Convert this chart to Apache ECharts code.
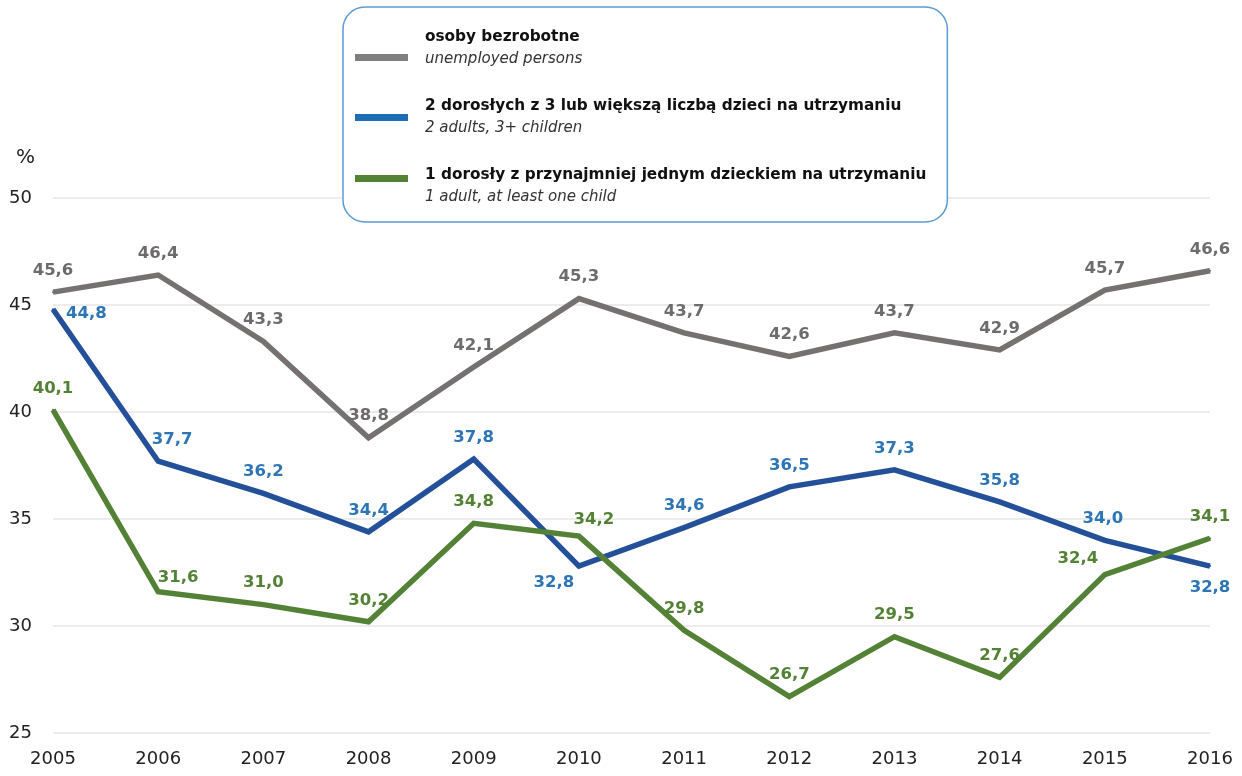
<!DOCTYPE html>
<html>
<head>
<meta charset="utf-8">
<title>Bezrobotni i gospodarstwa z dziećmi</title>
<script src="https://cdn.jsdelivr.net/npm/echarts@6/dist/echarts.min.js"></script>
<style>
  html, body { margin: 0; padding: 0; background: #fff; }
  #chart { width: 1242px; height: 776px; }
</style>
</head>
<body>
<div id="chart"></div>
<script>
// Data
const years = ['2005', '2006', '2007', '2008', '2009', '2010', '2011', '2012', '2013', '2014', '2015', '2016'];
const unemployed = [45.6, 46.4, 43.3, 38.8, 42.1, 45.3, 43.7, 42.6, 43.7, 42.9, 45.7, 46.6];
const twoAdultsThreeKids = [44.8, 37.7, 36.2, 34.4, 37.8, 32.8, 34.6, 36.5, 37.3, 35.8, 34.0, 32.8];
const oneAdultWithKids = [40.1, 31.6, 31.0, 30.2, 34.8, 34.2, 29.8, 26.7, 29.5, 27.6, 32.4, 34.1];

const namesPl = [
  'osoby bezrobotne',
  '2 dorosłych z 3 lub większą liczbą dzieci na utrzymaniu',
  '1 dorosły z przynajmniej jednym dzieckiem na utrzymaniu'
];
const namesEn = [
  'unemployed persons',
  '2 adults, 3+ children',
  '1 adult, at least one child'
];
const yTicks = [25, 30, 35, 40, 45, 50];

const FONT = '"DejaVu Sans", sans-serif';

// label placement tweaks per point (index -> label options)
const labelTweaks = [
  {},
  {
    0: { position: 'right', distance: 12, offset: [0, 4] },
    1: { offset: [14, 0] },
    5: { position: 'bottom', offset: [-25, -5] },
    10: { offset: [-2, 0] },
    11: { position: 'bottom' }
  },
  {
    1: { offset: [20, 7] },
    5: { offset: [15, 5] },
    10: { offset: [-27, 6] }
  }
];

const lineColors = ['#767171', '#24509a', '#538135'];
const labelColors = ['#6e6b6b', '#2e75b6', '#538135'];
const legendColors = ['#7f7f7f', '#1f6db5', '#548235'];
// vertical spot of the legend swatch inside each item (px from item top)
const swatchTop = [28, 19, 11];

function buildData(values, tweaks) {
  return values.map((v, i) => tweaks[i] ? { value: v, label: tweaks[i] } : v);
}

function makeSeries(idx, values) {
  return {
    name: namesPl[idx],
    type: 'line',
    data: buildData(values, labelTweaks[idx]),
    symbol: 'circle',
    symbolSize: 2,
    itemStyle: { color: lineColors[idx], borderWidth: 0 },
    lineStyle: { color: lineColors[idx], width: 5.5, join: 'miter' },
    label: {
      show: true,
      position: 'top',
      distance: 12,
      color: labelColors[idx],
      fontFamily: FONT,
      fontWeight: 'bold',
      fontSize: 16.5,
      formatter: p => p.value.toFixed(1).replace('.', ',')
    },
    emphasis: { disabled: true },
    animation: false
  };
}

const chart = echarts.init(document.getElementById('chart'), null, { renderer: 'canvas' });

const option = {
  backgroundColor: '#fff',
  animation: false,
  grid: { left: 53, right: 32, top: 198, bottom: 43 },
  legend: {
    orient: 'vertical',
    left: 343,
    top: 7,
    padding: [19, 21, 14, 12],
    itemWidth: 65,
    itemHeight: 44,
    itemGap: 25,
    backgroundColor: '#fff',
    borderColor: '#5b9bd5',
    borderWidth: 1.5,
    borderRadius: 22,
    selectedMode: false,
    data: namesPl.map((n, i) => ({
      name: n,
      icon: 'path://M0,0L0,0M65,44L65,44M0,' + swatchTop[i] + 'L53,' + swatchTop[i] + 'L53,' + (swatchTop[i] + 7) + 'L0,' + (swatchTop[i] + 7) + 'Z',
      itemStyle: { color: legendColors[i], borderWidth: 0 }
    })),
    formatter: name => '{b|' + name + '}\n{i|' + namesEn[namesPl.indexOf(name)] + '}',
    textStyle: {
      rich: {
        b: { fontFamily: FONT, fontWeight: 'bold', fontSize: 15.3, lineHeight: 22, color: '#111' },
        i: { fontFamily: FONT, fontStyle: 'italic', fontSize: 15, lineHeight: 22, color: '#333' }
      }
    }
  },
  xAxis: {
    type: 'category',
    data: years,
    boundaryGap: false,
    axisLine: { show: false },
    axisTick: { show: false },
    axisLabel: { color: '#222', fontFamily: FONT, fontSize: 18, margin: 17, interval: 0 }
  },
  yAxis: {
    type: 'value',
    min: yTicks[0],
    max: yTicks[yTicks.length - 1],
    interval: 5,
    name: '%',
    nameLocation: 'end',
    nameGap: 30,
    nameTextStyle: { color: '#222', fontFamily: FONT, fontSize: 20, align: 'right', padding: [0, 18, 0, 0] },
    axisLine: { show: false },
    axisTick: { show: false },
    axisLabel: { color: '#222', fontFamily: FONT, fontSize: 18, margin: 21 },
    splitLine: { lineStyle: { color: '#e6e6e6', width: 1.5 } }
  },
  series: [
    makeSeries(0, unemployed),
    makeSeries(1, twoAdultsThreeKids),
    makeSeries(2, oneAdultWithKids)
  ]
};

chart.setOption(option);
</script>
</body>
</html>
